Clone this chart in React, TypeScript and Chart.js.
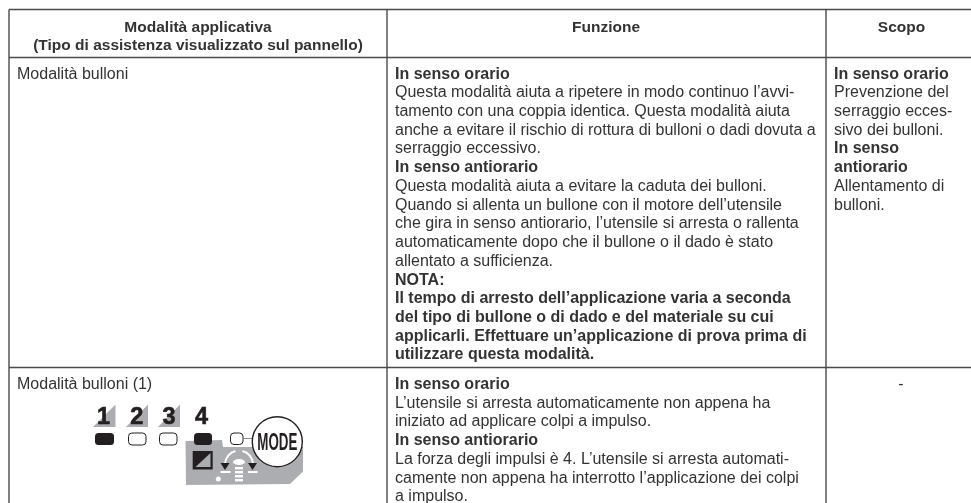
import React, { useEffect, useRef } from "react";
import { Chart, registerables } from "chart.js";

Chart.register(...registerables);

const WIDTH = 971;
const HEIGHT = 503;
const FONT = '"Liberation Sans", Arial, sans-serif';

const columnRules = [9, 387, 826];
const rowRules = [9.5, 57.5, 367.5];

type Line = [string, boolean?];

const headerCol1: Line[] = [
  ["Modalità applicativa", true],
  ["(Tipo di assistenza visualizzato sul pannello)", true],
];
const headerCol2: Line[] = [["Funzione", true]];
const headerCol3: Line[] = [["Scopo", true]];

const row1Col1: Line[] = [["Modalità bulloni"]];
const row1Col2: Line[] = [
  ["In senso orario", true],
  ["Questa modalità aiuta a ripetere in modo continuo l’avvi-"],
  ["tamento con una coppia identica. Questa modalità aiuta"],
  ["anche a evitare il rischio di rottura di bulloni o dadi dovuta a"],
  ["serraggio eccessivo."],
  ["In senso antiorario", true],
  ["Questa modalità aiuta a evitare la caduta dei bulloni."],
  ["Quando si allenta un bullone con il motore dell’utensile"],
  ["che gira in senso antiorario, l’utensile si arresta o rallenta"],
  ["automaticamente dopo che il bullone o il dado è stato"],
  ["allentato a sufficienza."],
  ["NOTA:", true],
  ["Il tempo di arresto dell’applicazione varia a seconda", true],
  ["del tipo di bullone o di dado e del materiale su cui", true],
  ["applicarli. Effettuare un’applicazione di prova prima di", true],
  ["utilizzare questa modalità.", true],
];
const row1Col3: Line[] = [
  ["In senso orario", true],
  ["Prevenzione del"],
  ["serraggio ecces-"],
  ["sivo dei bulloni."],
  ["In senso", true],
  ["antiorario", true],
  ["Allentamento di"],
  ["bulloni."],
];
const row2Col1: Line[] = [["Modalità bulloni (1)"]];
const row2Col2: Line[] = [
  ["In senso orario", true],
  ["L’utensile si arresta automaticamente non appena ha"],
  ["iniziato ad applicare colpi a impulso."],
  ["In senso antiorario", true],
  ["La forza degli impulsi è 4. L’utensile si arresta automati-"],
  ["camente non appena ha interrotto l’applicazione dei colpi"],
  ["a impulso."],
];
const row2Col3: Line[] = [["-"]];

const panelDigits = ["1", "2", "3", "4"];
const panelLit = [true, false, false, true];

const GAP = 18.72;
const TEXT = "#333333";

function drawBlock(
  ctx: CanvasRenderingContext2D,
  lines: Line[],
  x: number,
  y: number,
  align: CanvasTextAlign = "left",
  size = 16,
  gap = GAP,
) {
  ctx.textAlign = align;
  ctx.textBaseline = "alphabetic";
  ctx.fillStyle = TEXT;
  lines.forEach(([s, bold], i) => {
    ctx.font = `${bold ? "bold " : ""}${size}px ${FONT}`;
    ctx.fillText(s, x, y + i * gap);
  });
}

function rrect(ctx: CanvasRenderingContext2D, x: number, y: number, w: number, h: number, r: number, lit: boolean) {
  ctx.beginPath();
  ctx.roundRect(x, y, w, h, r);
  if (lit) {
    ctx.fillStyle = "#231f20";
    ctx.fill();
  } else {
    ctx.fillStyle = "#fff";
    ctx.fill();
    ctx.strokeStyle = "#231f20";
    ctx.lineWidth = 1;
    ctx.stroke();
  }
}

function poly(ctx: CanvasRenderingContext2D, pts: number[][], fill: string) {
  ctx.beginPath();
  pts.forEach(([a, b], i) => (i ? ctx.lineTo(a, b) : ctx.moveTo(a, b)));
  ctx.closePath();
  ctx.fillStyle = fill;
  ctx.fill();
}

function drawPanel(ctx: CanvasRenderingContext2D) {
  const grey = "#abadb0";
  const ink = "#231f20";
  poly(ctx, [[185.5, 441], [222, 440], [223, 447], [303, 447], [303, 471.5], [290, 484], [186, 485]], grey);
  [[93, 115.5], [126, 148], [158, 180]].forEach(([a, b]) =>
    poly(ctx, [[a, 427], [b, 404.5], [b, 427]], grey),
  );
  const cx = [103.5, 136.7, 169, 201.5];
  ctx.textAlign = "center";
  ctx.textBaseline = "alphabetic";
  ctx.fillStyle = ink;
  ctx.strokeStyle = ink;
  ctx.lineWidth = 0.6;
  ctx.font = `bold 23.5px ${FONT}`;
  panelDigits.forEach((d, i) => {
    ctx.fillText(d, cx[i], 423.5);
    ctx.strokeText(d, cx[i], 423.5);
  });
  const lamps = [[95, 19], [128.5, 17.5], [159.5, 17.5], [194, 18]];
  lamps.forEach(([x, w], i) => rrect(ctx, x, 433, w, 12, 3.5, panelLit[i]));
  rrect(ctx, 230.5, 433, 12.5, 11.5, 3.5, false);
  ctx.strokeStyle = "#8a8a8a";
  ctx.lineWidth = 1;
  ctx.beginPath();
  ctx.moveTo(243, 438.5);
  ctx.lineTo(254, 438.5);
  ctx.stroke();
  ctx.fillStyle = ink;
  ctx.fillRect(192.7, 451, 20, 18.5);
  poly(ctx, [[210.5, 453], [210.5, 467], [195.5, 467]], grey);
  ctx.strokeStyle = "#fff";
  ctx.lineWidth = 2;
  ctx.beginPath();
  ctx.arc(239, 464.5, 14, Math.PI * 1.02, Math.PI * 1.42);
  ctx.stroke();
  ctx.beginPath();
  ctx.arc(239, 464.5, 14, Math.PI * 1.58, Math.PI * 1.98);
  ctx.stroke();
  poly(ctx, [[220.5, 463], [229.5, 463], [225, 470]], ink);
  poly(ctx, [[248, 463], [257, 463], [252.5, 470]], ink);
  ctx.fillStyle = "#fff";
  ctx.fillRect(220.5, 471, 10, 2);
  ctx.fillRect(248, 471, 9.5, 2);
  ctx.beginPath();
  ctx.ellipse(239, 462, 6, 3, 0, 0, Math.PI * 2);
  ctx.fill();
  [467, 471, 475, 479].forEach((y) => ctx.fillRect(235, y, 8, 2.4));
  ctx.beginPath();
  ctx.arc(218.3, 479, 2.5, 0, Math.PI * 2);
  ctx.fill();
  ctx.beginPath();
  ctx.arc(277.3, 441.7, 25, 0, Math.PI * 2);
  ctx.fillStyle = "#fff";
  ctx.fill();
  ctx.strokeStyle = ink;
  ctx.lineWidth = 1.4;
  ctx.stroke();
  ctx.save();
  ctx.translate(277.3, 450);
  ctx.scale(0.58, 1);
  ctx.fillStyle = ink;
  ctx.textAlign = "center";
  ctx.font = `bold 23px ${FONT}`;
  ctx.fillText("MODE", 0, 0);
  ctx.restore();
}

const tablePlugin = {
  id: "tableText",
  afterDatasetsDraw(chart: any) {
    const ctx: CanvasRenderingContext2D = chart.ctx;
    const px = (v: number) => chart.scales.x.getPixelForValue(v);
    const py = (v: number) => chart.scales.y.getPixelForValue(v);
    ctx.save();
    drawBlock(ctx, headerCol1, px(198), py(32), "center", 15.5, 18);
    drawBlock(ctx, headerCol2, px(606), py(32), "center", 15.5);
    drawBlock(ctx, headerCol3, px(901.5), py(32), "center", 15.5);
    drawBlock(ctx, row1Col1, px(17), py(78.6));
    drawBlock(ctx, row1Col2, px(395), py(78.6));
    drawBlock(ctx, row1Col3, px(834), py(78.6));
    drawBlock(ctx, row2Col1, px(17), py(389));
    drawBlock(ctx, row2Col2, px(395), py(389));
    drawBlock(ctx, row2Col3, px(901), py(389), "center");
    drawPanel(ctx);
    ctx.restore();
  },
};

export default function App() {
  const ref = useRef<HTMLCanvasElement>(null);
  useEffect(() => {
    if (!ref.current) return;
    const datasets = [
      ...columnRules.map((x) => ({
        data: [{ x, y: rowRules[0] }, { x, y: HEIGHT }],
      })),
      ...rowRules.map((y) => ({
        data: [{ x: columnRules[0], y }, { x: WIDTH, y }],
      })),
    ].map((d) => ({
      ...d,
      showLine: true,
      borderColor: "#4a4a4a",
      borderWidth: 1.4,
      pointRadius: 0,
    }));
    const chart = new Chart(ref.current, {
      type: "scatter",
      data: { datasets },
      options: {
        responsive: false,
        animation: false,
        layout: { padding: 0 },
        plugins: { legend: { display: false }, tooltip: { enabled: false } },
        scales: {
          x: { type: "linear", min: 0, max: WIDTH, display: false },
          y: { type: "linear", min: 0, max: HEIGHT, reverse: true, display: false },
        },
      },
      plugins: [tablePlugin],
    } as any);
    return () => chart.destroy();
  }, []);
  return (
    <div style={{ position: "absolute", left: 0, top: 0, width: WIDTH, height: HEIGHT, background: "#fff" }}>
      <canvas ref={ref} width={WIDTH} height={HEIGHT} style={{ display: "block" }} />
    </div>
  );
}
